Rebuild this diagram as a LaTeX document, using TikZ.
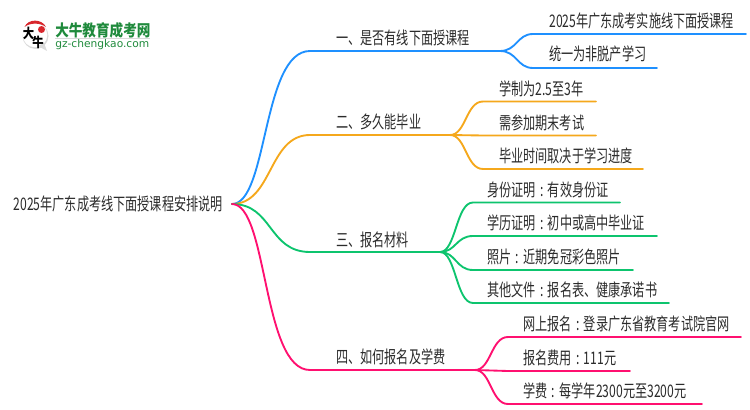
\documentclass[tikz,border=0pt]{standalone}
\usepackage{fontspec}
\setmainfont[FakeStretch=0.7]{Noto Sans CJK SC}
\newfontfamily\logofont[FakeStretch=0.85]{Noto Sans CJK SC}
\newfontfamily\urlfont{DejaVu Sans}
\definecolor{blueline}{HTML}{1E90FF}
\definecolor{orangeline}{HTML}{F5A81C}
\definecolor{greenline}{HTML}{0DC46E}
\definecolor{pinkline}{HTML}{FF1070}
\definecolor{logogreen}{HTML}{1F8A3C}
\definecolor{logored}{HTML}{D8262C}
\definecolor{inktext}{HTML}{2B2B2B}
\newcommand{\midcolon}{\makebox[9.1pt]{:}}
\tikzset{
  txt/.style={anchor=west,inner sep=0pt,text=inktext,font=\fontsize{13pt}{15pt}\selectfont},
  link/.style={line width=1.4pt,line cap=round},
}
\begin{document}
\begin{tikzpicture}[x=0.75pt,y=-0.75pt]
\useasboundingbox (0,0) rectangle (750,410);

% logo
\fill[black!14] (35.5,36) circle (13);
\fill[white] (35,35) circle (12.3);
\fill[black!14] (38,46) -- (47,51) -- (44,43) -- cycle;
\fill[logored] (24.5,27) .. controls (28,18.5) and (42,18.5) .. (46,27) .. controls (40,22.5) and (30,22.5) .. (24.5,27) -- cycle;
\fill[logored] (41.5,29.5) circle (3.5);
\node[inner sep=0pt,font=\logofont\fontsize{10pt}{10pt}\selectfont\bfseries] (logoa) at (28.5,33) {大};
\node[inner sep=0pt,font=\logofont\fontsize{10pt}{10pt}\selectfont\bfseries] (logob) at (38,42) {牛};
\node[anchor=west,inner sep=0pt,text=logogreen,font=\logofont\fontsize{12pt}{13pt}\selectfont\bfseries] (logotitle) at (55,30) {大牛教育成考网};
\draw[black!15,line width=0.5pt] (55,38.5) -- (150,38.5);
\node[anchor=west,inner sep=0pt,text=logogreen,font=\fontsize{8pt}{9pt}\urlfont] (logourl) at (55,45) {gz-chengkao.com};

% root
\node[txt,anchor=east,inner xsep=6.75pt] (root) at (232,204) {2025年广东成考线下面授课程安排说明};

% branch points
\coordinate (one) at (310,51);
\coordinate (oneEnd) at (500,51);
\coordinate (two) at (310,135);
\coordinate (twoEnd) at (450,135);
\coordinate (three) at (310,252);
\coordinate (threeEnd) at (440,252);
\coordinate (four) at (310,370);
\coordinate (fourEnd) at (475,370);

\draw[link,blueline] (root.east) .. controls (268,204) and (262,51) .. (one) -- (oneEnd);
\draw[link,orangeline] (root.east) .. controls (273,204) and (268,135) .. (two) -- (twoEnd);
\draw[link,greenline] (root.east) .. controls (273,204) and (268,252) .. (three) -- (threeEnd);
\draw[link,pinkline] (root.east) .. controls (268,204) and (262,370) .. (four) -- (fourEnd);

\node[txt] (oneText) at (336,38) {一、是否有线下面授课程};
\node[txt] (twoText) at (336,122) {二、多久能毕业};
\node[txt] (threeText) at (336,240) {三、报名材料};
\node[txt] (fourText) at (336,357) {四、如何报名及学费};

% first branch
\coordinate (a1) at (533,34);
\coordinate (a1End) at (746,34);
\coordinate (a2) at (533,68);
\coordinate (a2End) at (657,68);
\draw[link,blueline] (oneEnd) .. controls (517,51) and (517,34) .. (a1) -- (a1End);
\draw[link,blueline] (oneEnd) .. controls (517,51) and (517,68) .. (a2) -- (a2End);
\node[txt] (a1Text) at (549,21) {2025年广东成考实施线下面授课程};
\node[txt] (a2Text) at (549,54) {统一为非脱产学习};

% second branch
\coordinate (b1) at (483,101.5);
\coordinate (b1End) at (596,101.5);
\coordinate (b2) at (483,135.5);
\coordinate (b2End) at (596,135.5);
\coordinate (b3) at (483,169);
\coordinate (b3End) at (643,169);
\draw[link,orangeline] (twoEnd) .. controls (466,135) and (466,101.5) .. (b1) -- (b1End);
\draw[link,orangeline] (twoEnd) -- (b2) -- (b2End);
\draw[link,orangeline] (twoEnd) .. controls (466,135) and (466,169) .. (b3) -- (b3End);
\node[txt] (b1Text) at (499,88.5) {学制为2.5至3年};
\node[txt] (b2Text) at (499,122.5) {需参加期末考试};
\node[txt] (b3Text) at (499,155.5) {毕业时间取决于学习进度};

% third branch
\coordinate (c1) at (473,202.5);
\coordinate (c1End) at (620,202.5);
\coordinate (c2) at (473,236);
\coordinate (c2End) at (657,236);
\coordinate (c3) at (473,270);
\coordinate (c3End) at (633,270);
\coordinate (c4) at (473,303);
\coordinate (c4End) at (669,303);
\draw[link,greenline] (threeEnd) .. controls (456,252) and (456,202.5) .. (c1) -- (c1End);
\draw[link,greenline] (threeEnd) .. controls (456,252) and (456,236) .. (c2) -- (c2End);
\draw[link,greenline] (threeEnd) .. controls (456,252) and (456,270) .. (c3) -- (c3End);
\draw[link,greenline] (threeEnd) .. controls (456,252) and (456,303) .. (c4) -- (c4End);
\node[txt] (c1Text) at (487,189.5) {身份证明\midcolon 有效身份证};
\node[txt] (c2Text) at (487,223) {学历证明\midcolon 初中或高中毕业证};
\node[txt] (c3Text) at (487,257) {照片\midcolon 近期免冠彩色照片};
\node[txt] (c4Text) at (487,290) {其他文件\midcolon 报名表、健康承诺书};

% fourth branch
\coordinate (d1) at (508,337);
\coordinate (d1End) at (741,337);
\coordinate (d2) at (508,371);
\coordinate (d2End) at (630,371);
\coordinate (d3) at (508,404);
\coordinate (d3End) at (702,404);
\draw[link,pinkline] (fourEnd) .. controls (491,370) and (491,337) .. (d1) -- (d1End);
\draw[link,pinkline] (fourEnd) -- (d2) -- (d2End);
\draw[link,pinkline] (fourEnd) .. controls (491,370) and (491,404) .. (d3) -- (d3End);
\node[txt] (d1Text) at (523,324) {网上报名\midcolon 登录广东省教育考试院官网};
\node[txt] (d2Text) at (523,358) {报名费用\midcolon 111元};
\node[txt] (d3Text) at (523,391) {学费\midcolon 每学年2300元至3200元};
\end{tikzpicture}
\end{document}
